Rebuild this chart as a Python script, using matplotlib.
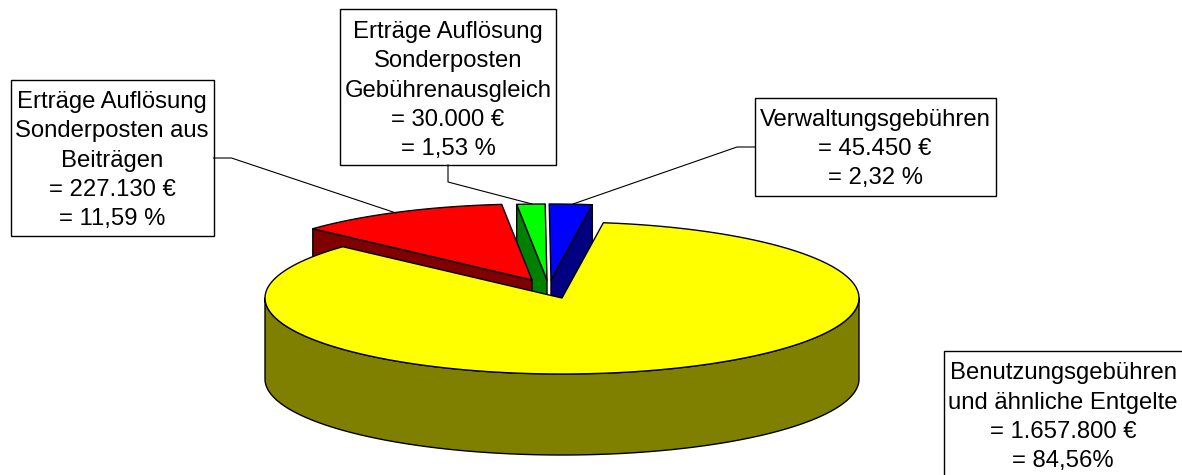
import numpy as np
import matplotlib
matplotlib.use('Agg')
import matplotlib.pyplot as plt
from matplotlib.patches import Polygon, Rectangle

# Slices, clockwise starting from the yellow one
categories = ['Benutzungsgebühren\nund ähnliche Entgelte',
              'Erträge Auflösung\nSonderposten aus\nBeiträgen',
              'Erträge Auflösung\nSonderposten\nGebührenausgleich',
              'Verwaltungsgebühren']
values = [1657800, 227130, 30000, 45450]
value_labels = ['= 1.657.800 €', '= 227.130 €', '= 30.000 €', '= 45.450 €']
percent_labels = ['= 84,56%', '= 11,59 %', '= 1,53 %', '= 2,32 %']

TOP_COLOURS = ['#ffff00', '#ff0000', '#00ff00', '#0000ff']
SIDE_COLOURS = ['#808000', '#800000', '#008000', '#000080']

# Pie geometry, in pixels
CENTRE = (562, 298)
RX = 297
RY = 76
DEPTH = 81
START_ANGLE = 8.0
APEX = [(562, 298), (532, 280), (547, 280), (551, 280)]

FONT = 'Liberation Sans'
FONT_SIZE = 17.2
LINE_SPACING = 1.425
EDGE = dict(edgecolor='black', linewidth=1.0, joinstyle='round')

BOXES = [
    # x0, y0, x1, y1, text centre x, last baseline y
    (944, 351, 1190, 490, 1063, 467),
    (10.5, 80, 213.5, 236, 112, 225),
    (340, 9, 556, 165, 448, 155),
    (755, 98, 996, 196, 875, 184),
]
LEADERS = [
    None,
    [(213.5, 158), (231.5, 158), (396, 213)],
    [(448, 165), (448, 182), (532, 204)],
    [(755, 147), (737, 147), (573, 204)],
]


def rim(apex, a0, a1, depth=0):
    """Points on the rim between two angles (degrees clockwise from the top)"""
    t = np.radians(np.linspace(a0, a1, 200))
    return np.column_stack([apex[0] + RX * np.sin(t), apex[1] - RY * np.cos(t) + depth])


def cut_face(apex, angle):
    p = rim(apex, angle, angle)[0]
    return [apex, tuple(p), (p[0], p[1] + DEPTH), (apex[0], apex[1] + DEPTH)]


fig = plt.figure(figsize=(11.82, 4.75), dpi=100)
ax = fig.add_axes([0, 0, 1, 1])
ax.set_xlim(0, 1182)
ax.set_ylim(475, 0)
ax.axis('off')

sweep = np.array(values) / np.sum(values) * 360
starts = START_ANGLE + np.concatenate([[0], np.cumsum(sweep)[:-1]])

# Exploded slices, back to front: blue, green, red
faces = {1: starts[1], 2: starts[2], 3: starts[3] + sweep[3]}
for i in [3, 2, 1]:
    apex = APEX[i]
    ax.add_patch(Polygon(cut_face(apex, faces[i]), facecolor=SIDE_COLOURS[i], **EDGE))
    top = np.vstack([[apex], rim(apex, starts[i], starts[i] + sweep[i])])
    ax.add_patch(Polygon(top, facecolor=TOP_COLOURS[i], **EDGE))

# Yellow slice goes over the lower parts of the others
wall = np.vstack([rim(CENTRE, 90, 270), rim(CENTRE, 270, 90, DEPTH)])
ax.add_patch(Polygon(wall, facecolor=SIDE_COLOURS[0], **EDGE))
top = np.vstack([[CENTRE], rim(CENTRE, starts[0], starts[0] + sweep[0])])
ax.add_patch(Polygon(top, facecolor=TOP_COLOURS[0], **EDGE))

# Labels with their leader lines
for i, (x0, y0, x1, y1, tx, ty) in enumerate(BOXES):
    if LEADERS[i]:
        xs, ys = zip(*LEADERS[i])
        ax.plot(xs, ys, color='black', linewidth=0.8)
    ax.add_patch(Rectangle((x0, y0), x1 - x0, y1 - y0, facecolor='white',
                           edgecolor='black', linewidth=1.0))
    label = categories[i] + '\n' + value_labels[i] + '\n' + percent_labels[i]
    ax.text(tx, ty, label, ha='center', va='baseline', multialignment='center',
            family=FONT, fontsize=FONT_SIZE, linespacing=LINE_SPACING, color='black')

fig.savefig('out.png', dpi=100)
